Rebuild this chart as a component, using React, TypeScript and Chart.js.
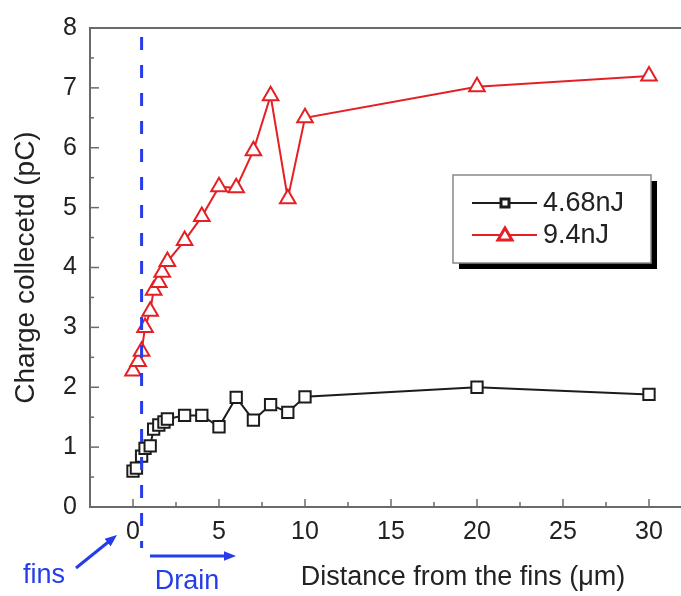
import React, { useEffect, useRef } from 'react';
import { Chart, registerables } from 'chart.js';

Chart.register(...registerables);

const seriesLabels = ['4.68nJ', '9.4nJ'];
const lowX = [0, 0.2, 0.5, 0.7, 1, 1.2, 1.5, 1.8, 2, 3, 4, 5, 6, 7, 8, 9, 10, 20, 30];
const lowY = [0.6, 0.65, 0.85, 0.98, 1.02, 1.3, 1.37, 1.42, 1.47, 1.53, 1.53, 1.34, 1.83, 1.45, 1.71, 1.58, 1.84, 2.0, 1.88];
const highX = [0, 0.3, 0.5, 0.7, 1, 1.2, 1.5, 1.7, 2, 3, 4, 5, 6, 7, 8, 9, 10, 20, 30];
const highY = [2.27, 2.43, 2.6, 3.0, 3.27, 3.62, 3.75, 3.92, 4.1, 4.45, 4.85, 5.35, 5.33, 5.95, 6.87, 5.15, 6.5, 7.02, 7.2];
const xTickLabels = [0, 5, 10, 15, 20, 25, 30];
const yTickLabels = [0, 1, 2, 3, 4, 5, 6, 7, 8];
const drainEdge = 0.5;
const xTitle = 'Distance from the fins (\u03bcm)';
const yTitle = 'Charge collecetd (pC)';
const finsLabel = 'fins';
const drainLabel = 'Drain';

const FONT = 'Liberation Sans, Arial, sans-serif';
const BLACK = '#1c1c1c';
const RED = 'rgb(228,32,36)';
const BLUE = 'rgb(36,60,235)';
const AXIS = '#6a6a6a';
const TEXT = '#222';

function arrow(ctx: CanvasRenderingContext2D, x1: number, y1: number, x2: number, y2: number, head: number) {
  const a = Math.atan2(y2 - y1, x2 - x1);
  ctx.beginPath();
  ctx.moveTo(x1, y1);
  ctx.lineTo(x2 - Math.cos(a) * head * 0.8, y2 - Math.sin(a) * head * 0.8);
  ctx.stroke();
  ctx.beginPath();
  ctx.moveTo(x2, y2);
  ctx.lineTo(x2 - Math.cos(a) * head + Math.sin(a) * head * 0.4, y2 - Math.sin(a) * head - Math.cos(a) * head * 0.4);
  ctx.lineTo(x2 - Math.cos(a) * head - Math.sin(a) * head * 0.4, y2 - Math.sin(a) * head + Math.cos(a) * head * 0.4);
  ctx.closePath();
  ctx.fill();
}

const framePlugin = {
  id: 'frame',
  beforeDatasetsDraw(chart: any) {
    const { ctx, chartArea, scales } = chart;
    const xs = scales.x;
    const ys = scales.y;
    ctx.save();
    ctx.strokeStyle = AXIS;
    ctx.lineWidth = 2;
    ctx.beginPath();
    ctx.moveTo(chartArea.left, chartArea.top);
    ctx.lineTo(chart.width, chartArea.top);
    ctx.stroke();
    ctx.lineWidth = 1.5;
    xs.ticks.forEach((t: any) => {
      const v = t.value;
      if (v <= xs.min || v >= xs.max) return;
      if (Math.abs(v / 2.5 - Math.round(v / 2.5)) > 1e-6) return;
      const major = xTickLabels.includes(v);
      const px = xs.getPixelForValue(v);
      ctx.beginPath();
      ctx.moveTo(px, chartArea.bottom);
      ctx.lineTo(px, chartArea.bottom - (major ? 8 : 5));
      ctx.stroke();
    });
    ys.ticks.forEach((t: any) => {
      const v = t.value;
      if (v <= ys.min || v >= ys.max) return;
      const major = yTickLabels.includes(v);
      const py = ys.getPixelForValue(v);
      ctx.beginPath();
      ctx.moveTo(chartArea.left, py);
      ctx.lineTo(chartArea.left + (major ? 9 : 4), py);
      ctx.stroke();
    });
    ctx.restore();
  },
  afterDatasetsDraw(chart: any) {
    const { ctx, scales } = chart;
    const xs = scales.x;
    ctx.save();
    const dx = xs.getPixelForValue(drainEdge);
    ctx.strokeStyle = BLUE;
    ctx.lineWidth = 3;
    ctx.setLineDash([13, 15]);
    ctx.beginPath();
    ctx.moveTo(dx, 37);
    ctx.lineTo(dx, 548);
    ctx.stroke();
    ctx.setLineDash([]);

    const bx = 453, by = 175, bw = 198, bh = 88;
    ctx.fillStyle = '#000';
    ctx.fillRect(bx + 6, by + 6, bw, bh);
    ctx.fillStyle = '#fff';
    ctx.fillRect(bx, by, bw, bh);
    ctx.strokeStyle = '#888';
    ctx.lineWidth = 1.5;
    ctx.strokeRect(bx, by, bw, bh);
    const rows = [203, 235];
    const ds = chart.data.datasets;
    ds.forEach((d: any, i: number) => {
      const ry = rows[i];
      ctx.strokeStyle = d.borderColor;
      ctx.lineWidth = 2;
      ctx.beginPath();
      ctx.moveTo(472, ry);
      ctx.lineTo(537, ry);
      ctx.stroke();
      ctx.fillStyle = '#fff';
      ctx.lineWidth = 3;
      ctx.beginPath();
      if (d.pointStyle === 'rect') {
        ctx.rect(501, ry - 4, 8, 8);
      } else {
        ctx.moveTo(505, ry - 7);
        ctx.lineTo(512, ry + 5);
        ctx.lineTo(498, ry + 5);
        ctx.closePath();
      }
      ctx.fill();
      ctx.stroke();
      ctx.fillStyle = TEXT;
      ctx.font = `27px ${FONT}`;
      ctx.textAlign = 'left';
      ctx.textBaseline = 'middle';
      ctx.fillText(d.label, 543, ry + 1);
    });
    ctx.restore();
  },
  afterDraw(chart: any) {
    const { ctx } = chart;
    ctx.save();
    ctx.fillStyle = TEXT;
    ctx.font = `27px ${FONT}`;
    ctx.textAlign = 'center';
    ctx.textBaseline = 'middle';
    ctx.fillText(xTitle, 463, 578);

    ctx.fillStyle = BLUE;
    ctx.strokeStyle = BLUE;
    ctx.lineWidth = 3;
    ctx.font = `27px ${FONT}`;
    ctx.fillText(finsLabel, 44, 576);
    ctx.fillText(drainLabel, 187, 582);
    arrow(ctx, 76, 568, 117, 535, 12);
    arrow(ctx, 150, 556, 236, 556, 12);
    ctx.restore();
  },
};

export default function App() {
  const ref = useRef<HTMLCanvasElement | null>(null);
  useEffect(() => {
    if (!ref.current) return;
    const chart = new Chart(ref.current, {
      type: 'line',
      data: {
        datasets: [
          {
            label: seriesLabels[0],
            data: lowX.map((x, i) => ({ x, y: lowY[i] })),
            borderColor: BLACK,
            backgroundColor: '#fff',
            borderWidth: 2,
            pointStyle: 'rect',
            pointRadius: 8,
            pointBorderWidth: 2,
            pointBackgroundColor: '#fff',
            pointBorderColor: BLACK,
            tension: 0,
          },
          {
            label: seriesLabels[1],
            data: highX.map((x, i) => ({ x, y: highY[i] })),
            borderColor: RED,
            backgroundColor: '#fff',
            borderWidth: 2,
            pointStyle: 'triangle',
            pointRadius: 9,
            pointBorderWidth: 2,
            pointBackgroundColor: '#fff',
            pointBorderColor: RED,
            tension: 0,
          },
        ],
      },
      options: {
        animation: false,
        responsive: false,
        events: [],
        layout: { padding: { top: 17, left: 0, right: 0, bottom: 0 } },
        plugins: { legend: { display: false }, tooltip: { enabled: false } },
        scales: {
          x: {
            type: 'linear',
            min: -2.5,
            max: 32.5,
            afterFit: (s: any) => { s.height = 89; },
            grid: { display: false, drawTicks: false },
            border: { display: true, color: AXIS, width: 2 },
            ticks: {
              stepSize: 2.5,
              autoSkip: false,
              maxRotation: 0,
              padding: 10,
              color: TEXT,
              font: { family: FONT, size: 25 },
              callback: (v: any) => (xTickLabels.includes(Number(v)) ? String(v) : ''),
            },
          },
          y: {
            type: 'linear',
            min: 0,
            max: 8,
            afterFit: (s: any) => { s.width = 90; },
            grid: { display: false, drawTicks: false },
            border: { display: true, color: AXIS, width: 2 },
            title: {
              display: true,
              text: yTitle,
              color: TEXT,
              font: { family: FONT, size: 28 },
              padding: { top: 9, bottom: 0 },
            },
            ticks: {
              stepSize: 0.5,
              autoSkip: false,
              padding: 13,
              color: TEXT,
              font: { family: FONT, size: 25 },
              callback: (v: any) => (yTickLabels.includes(Number(v)) ? String(v) : ''),
            },
          },
        },
      },
      plugins: [framePlugin],
    });
    return () => chart.destroy();
  }, []);
  return (
    <div style={{ position: 'fixed', left: 0, top: 0, width: 681, height: 596, overflow: 'hidden', background: '#fff' }}>
      <canvas ref={ref} width={703} height={596} style={{ display: 'block' }} />
    </div>
  );
}
